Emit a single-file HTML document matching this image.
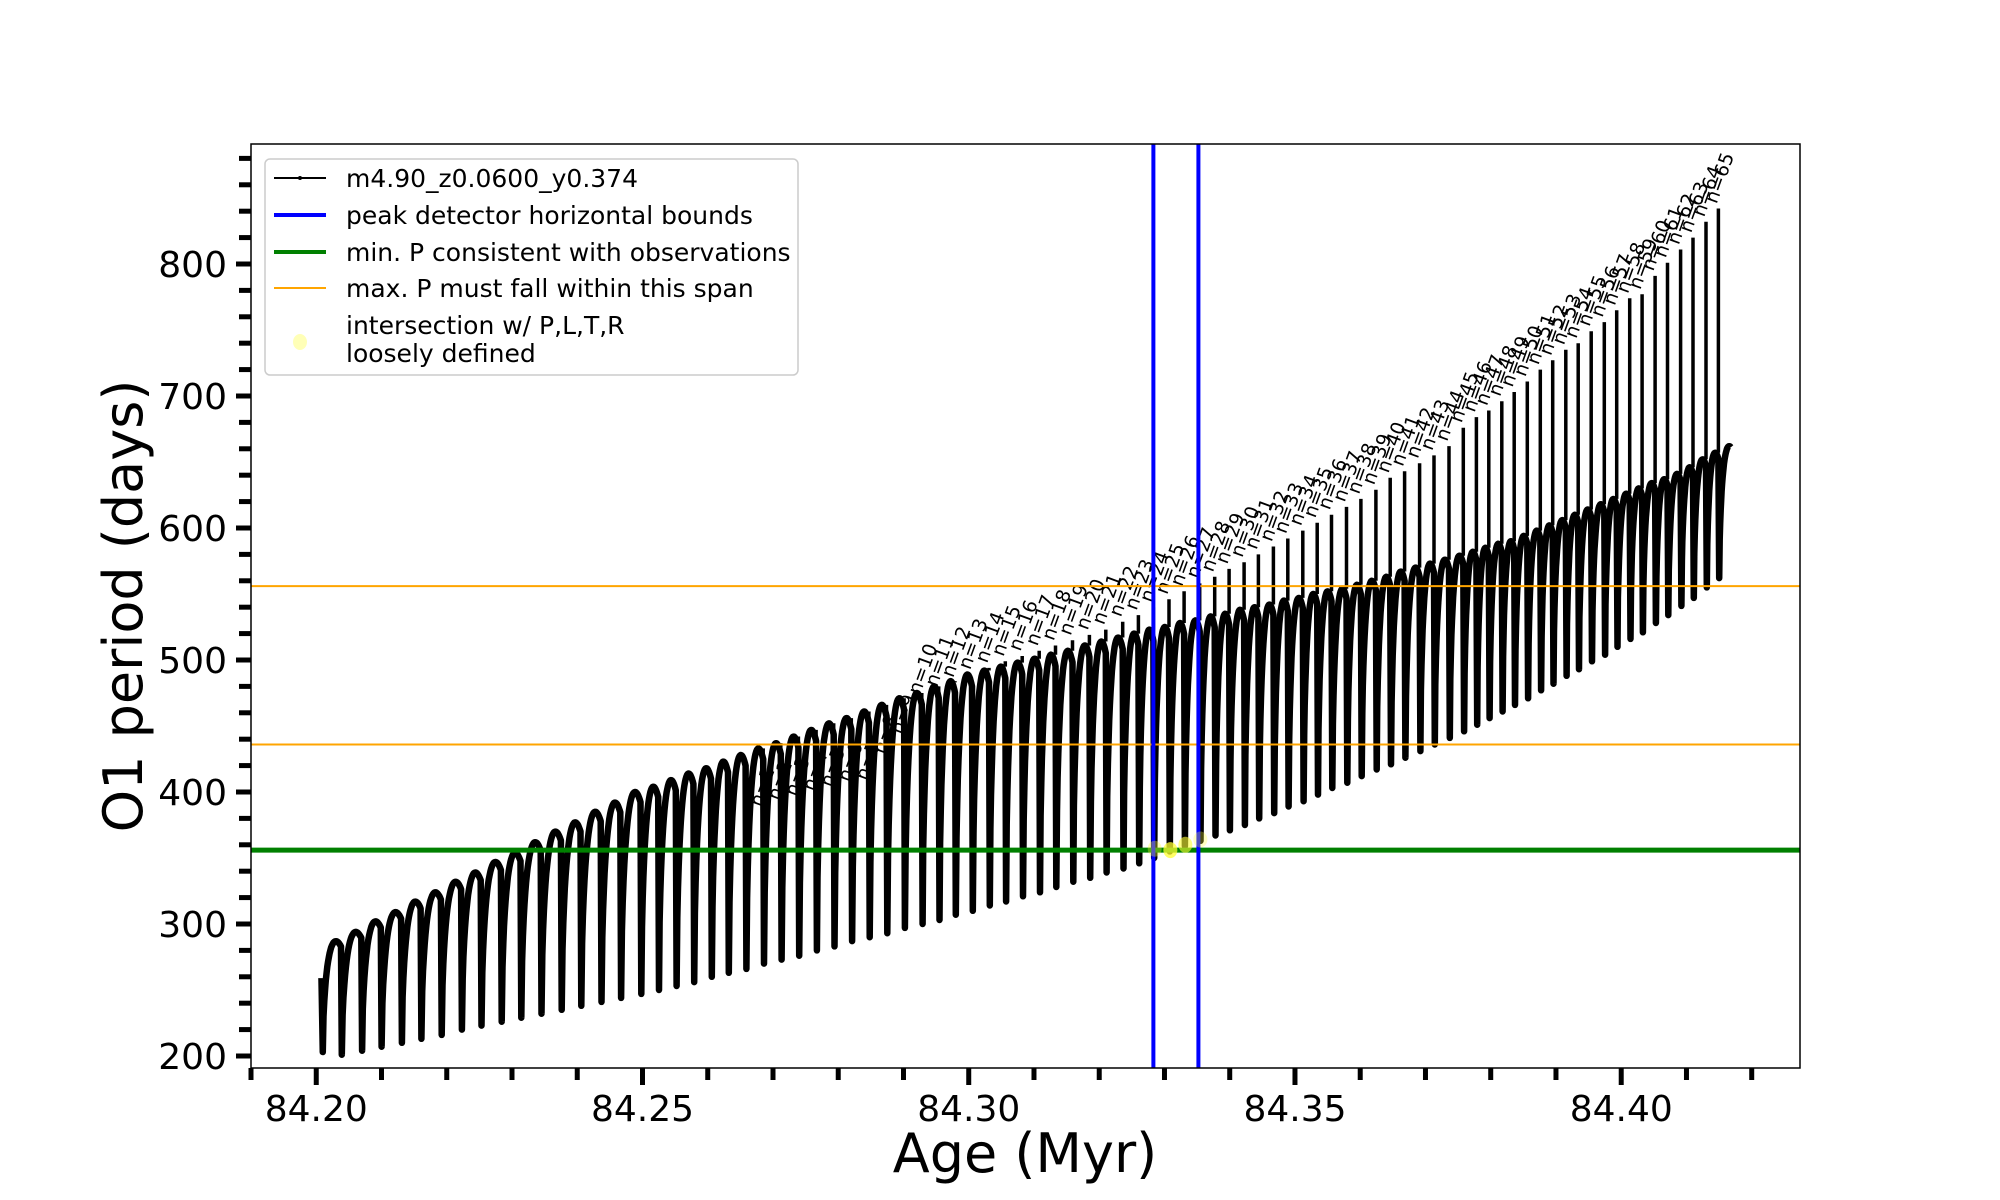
<!DOCTYPE html>
<html><head><meta charset="utf-8"><style>
html,body{margin:0;padding:0;background:#fff;}
svg{display:block;font-family:"DejaVu Sans","Liberation Sans",sans-serif;}
</style></head><body>
<svg id="chart" width="2000" height="1200" viewBox="0 0 2000 1200" xmlns="http://www.w3.org/2000/svg">
<rect x="0" y="0" width="2000" height="1200" fill="#fff"/>
<g id="plot"></g>
<g id="axes"></g>
<text x="1025" y="1172" font-size="54" text-anchor="middle">Age (Myr)</text>
<text x="0" y="0" font-size="54" text-anchor="middle" transform="translate(142,606) rotate(-90)">O1 period (days)</text>
<g>
<rect x="265" y="159" width="533" height="216" rx="5" fill="#fff" fill-opacity="0.85" stroke="#ccc" stroke-width="1.5"/>
<line x1="274" y1="178" x2="326" y2="178" stroke="#000" stroke-width="2"/>
<circle cx="300" cy="178" r="2" fill="#000"/>
<text x="346" y="187" font-size="25">m4.90_z0.0600_y0.374</text>
<line x1="274" y1="215" x2="326" y2="215" stroke="#0000ff" stroke-width="4"/>
<text x="346" y="224" font-size="25">peak detector horizontal bounds</text>
<line x1="274" y1="252" x2="326" y2="252" stroke="#008000" stroke-width="4"/>
<text x="346" y="261" font-size="25">min. P consistent with observations</text>
<line x1="274" y1="288" x2="326" y2="288" stroke="#ffa500" stroke-width="2"/>
<text x="346" y="297" font-size="25">max. P must fall within this span</text>
<ellipse cx="300" cy="342" rx="7" ry="8" fill="#ffff99" fill-opacity="0.7"/>
<text x="346" y="334" font-size="25">intersection w/ P,L,T,R</text>
<text x="346" y="362" font-size="25">loosely defined</text>
</g>
</svg>
<script>
const NS="http://www.w3.org/2000/svg";
// ---- data ----
const cycleN=[-21,-20,-19,-18,-17,-16,-15,-14,-13,-12,-11,-10,-9,-8,-7,-6,-5,-4,-3,-2,-1,0,1,2,3,4,5,6,7,8,9,10,11,12,13,14,15,16,17,18,19,20,21,22,23,24,25,26,27,28,29,30,31,32,33,34,35,36,37,38,39,40,41,42,43,44,45,46,47,48,49,50,51,52,53,54,55,56,57,58,59,60,61,62,63,64,65];
const dropAge=[84.2038,84.2069,84.2099,84.2130,84.2160,84.2191,84.2222,84.2252,84.2283,84.2313,84.2344,84.2375,84.2405,84.2436,84.2466,84.2497,84.2524,84.2551,84.2578,84.2605,84.2631,84.2658,84.2685,84.2712,84.2739,84.2766,84.2793,84.2820,84.2847,84.2874,84.2901,84.2928,84.2954,84.2979,84.3005,84.3031,84.3056,84.3082,84.3108,84.3133,84.3159,84.3185,84.3210,84.3236,84.3260,84.3283,84.3307,84.3330,84.3354,84.3377,84.3399,84.3422,84.3444,84.3467,84.3489,84.3512,84.3534,84.3556,84.3579,84.3601,84.3624,84.3646,84.3668,84.3691,84.3713,84.3736,84.3758,84.3778,84.3797,84.3817,84.3836,84.3856,84.3876,84.3895,84.3915,84.3934,84.3954,84.3974,84.3993,84.4013,84.4032,84.4052,84.4071,84.4091,84.4110,84.4130,84.4149];
const peakP=[287,294,302,309,317,324,332,339,347,354,362,370,377,385,392,400,404,409,414,418,423,428,433,437,442,447,452,456,461,466,471,475,480,484,489,492,495,498,501,504,507,511,514,517,520,523,525,528,530,533,535,538,540,542,545,547,550,552,554,557,560,563,567,570,573,576,579,582,585,588,590,594,598,602,606,610,614,618,622,626,630,634,637,641,646,652,657];
const minP=[201,204,207,210,213,216,220,223,226,229,232,235,238,241,244,247,250,253,256,260,263,266,270,273,276,280,283,287,290,293,297,300,303,307,310,314,317,321,324,328,332,335,339,342,346,350,355,359,363,367,371,375,380,384,389,393,398,403,407,412,417,421,426,431,436,441,446,451,456,461,466,471,477,482,488,493,499,504,510,516,521,528,534,541,547,555,562];
const spikeTop=[null,null,null,null,null,null,null,null,null,null,null,null,null,null,null,null,null,null,null,null,null,null,385,390,393,397,400,404,405,425,440,470,476,483,489,494,499,503,507,511,515,519,523,529,534,540,546,552,558,563,569,574,580,586,592,598,604,610,616,622,629,638,643,649,655,662,676,684,689,696,703,711,720,727,735,740,749,756,765,774,777,791,801,811,820,832,842];
const startAge=[84.2008,84.2010]; const startP=[259,203];
const endAge=84.4168; const endP=662;
const xTicks=[84.20,84.25,84.30,84.35,84.40];
const xTickLabels=["84.20","84.25","84.30","84.35","84.40"];
const yTicks=[200,300,400,500,600,700,800];
const yTickLabels=["200","300","400","500","600","700","800"];
const blueBounds=[84.3283,84.3352];
const greenP=[356];
const orangeP=[556,436];
const interAge=[84.3285,84.3309,84.3332,84.3355];
const interP=[357,356,360,364];
const interAlpha=[0.35,0.75,0.6,0.3];
// ---- axes functions ----
const L=251,R=1800,T=144,B=1068;
const X0=84.1900,X1=84.4274,Y0=190.9,Y1=890.9;
const sx=v=>L+(v-X0)/(X1-X0)*(R-L);
const sy=v=>B-(v-Y0)/(Y1-Y0)*(B-T);
function mk(tag,attrs,parent){const e=document.createElementNS(NS,tag);for(const k in attrs)e.setAttribute(k,attrs[k]);parent.appendChild(e);return e;}
const plot=document.getElementById('plot'), axes=document.getElementById('axes');
const cp=mk('clipPath',{id:'clip'},plot);mk('rect',{x:L,y:T,width:R-L,height:B-T},cp);
const g=mk('g',{'clip-path':'url(#clip)'},plot);
// labels (under curve)
for(let i=0;i<cycleN.length;i++){
  if(spikeTop[i]===null)continue;
  const t=mk('text',{x:0,y:0,'font-size':19,transform:`translate(${sx(dropAge[i])-2},${sy(spikeTop[i])-4}) rotate(-70)`},g);
  t.textContent='n='+cycleN[i];
  
  
}
// curve
let d=`M${sx(startAge[0])},${sy(startP[0])} L${sx(startAge[1])},${sy(startP[1])}`;
let spikes='';
let prevAge=startAge[1],prevMin=startP[1];
function arc(a0,a1,pmin,pmax,umax){
  let s='';const N=24;
  for(let k=1;k<=N;k++){const u=k/N*umax;const gg=Math.sin(0.6*Math.PI*Math.pow(u,0.55));
    s+=` L${sx(a0+(a1-a0)*u).toFixed(1)},${sy(pmin+(pmax-pmin)*gg).toFixed(1)}`;}
  return s;
}
for(let i=0;i<cycleN.length;i++){
  d+=arc(prevAge,dropAge[i],prevMin,peakP[i],1);
  const x=sx(dropAge[i]);
  if(spikeTop[i]!==null){spikes+=`M${x.toFixed(1)},${sy(peakP[i]).toFixed(1)} L${x.toFixed(1)},${sy(spikeTop[i]).toFixed(1)} `;}
  d+=` L${(x+0.8).toFixed(1)},${sy(minP[i]).toFixed(1)}`;
  prevAge=dropAge[i]+0.00012;prevMin=minP[i];
}
d+=arc(prevAge,endAge+(endAge-prevAge)*0.2,prevMin,endP,0.83);
const sp=mk('path',{d:spikes,fill:'none',stroke:'#000','stroke-width':3.5},g);


const cv=mk('path',{d:d,fill:'none',stroke:'#000','stroke-width':6.5,'stroke-linejoin':'round'},g);


// reference lines
orangeP.forEach((p,i)=>{const l=mk('line',{x1:L,x2:R,y1:sy(p),y2:sy(p),stroke:'#ffa500','stroke-width':2},g);
  
  });
greenP.forEach(p=>{const l=mk('line',{x1:L,x2:R,y1:sy(p),y2:sy(p),stroke:'#008000','stroke-width':5},g);
  
  });
blueBounds.forEach((a,i)=>{const l=mk('line',{x1:sx(a),x2:sx(a),y1:T,y2:B,stroke:'#0000ff','stroke-width':4},g);
  
  });
interAge.forEach((a,i)=>{const c=mk('ellipse',{cx:sx(a),cy:sy(interP[i]),rx:7,ry:8,fill:'#ffff33','fill-opacity':interAlpha[i]},g);
  
  });
// frame
const fr=mk('rect',{x:L,y:T,width:R-L,height:B-T,fill:'none',stroke:'#000','stroke-width':1.5},axes);


// x ticks
for(let k=0;k<=23;k++){const v=84.19+k*0.01;const x=sx(v);if(x>R+1)break;
  const major=xTicks.some(t=>Math.abs(t-v)<1e-6);
  const tk=mk('line',{x1:x,x2:x,y1:B,y2:B+(major?17:12),stroke:'#000','stroke-width':5},axes);
  
  }
xTicks.forEach((v,i)=>{const t=mk('text',{x:sx(v),y:B+53,'font-size':36,'text-anchor':'middle'},axes);t.textContent=xTickLabels[i];
  
  });
// y ticks
for(let v=200;v<=880;v+=20){const y=sy(v);const major=v%100===0;
  const tk=mk('line',{x1:L-(major?15:12),x2:L,y1:y,y2:y,stroke:'#000','stroke-width':5},axes);
  
  }
yTicks.forEach((v,i)=>{const t=mk('text',{x:L-24,y:sy(v)+13,'font-size':36,'text-anchor':'end'},axes);t.textContent=yTickLabels[i];
  
  });
</script>
</body></html>
